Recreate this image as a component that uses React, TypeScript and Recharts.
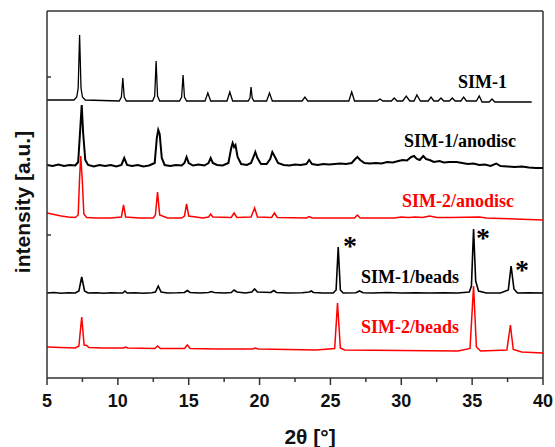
import { LineChart, Line, XAxis, YAxis, ReferenceLine } from 'recharts';

// XRD patterns, [2theta, intensity a.u.] (traces offset vertically)
const sim1: [number, number][] = [
  [5, 278], [6.9, 278], [7.1, 281], [7.2, 290], [7.3, 343], [7.4, 290], [7.5, 281], [7.7, 278],
  [10.1, 277], [10.25, 281], [10.35, 300], [10.45, 281], [10.6, 277],
  [12.45, 277], [12.6, 282], [12.7, 317], [12.8, 282], [12.95, 277],
  [14.35, 277], [14.5, 281], [14.6, 303], [14.7, 281], [14.85, 277],
  [16.15, 277], [16.35, 285], [16.55, 277],
  [17.7, 277], [17.9, 286], [18.1, 277],
  [19.2, 277], [19.32, 280], [19.4, 291], [19.48, 280], [19.6, 277],
  [20.5, 277], [20.7, 285], [20.9, 277],
  [23.0, 277], [23.2, 281], [23.4, 277],
  [26.3, 277], [26.5, 286], [26.7, 277],
  [28.3, 277], [28.5, 279], [28.7, 277],
  [29.3, 277], [29.5, 280], [29.7, 277],
  [30.1, 277], [30.35, 282], [30.6, 277],
  [30.9, 277], [31.1, 283], [31.35, 277],
  [31.9, 277], [32.1, 281], [32.3, 277],
  [32.6, 277], [32.8, 280], [33.0, 277],
  [33.4, 277], [33.6, 280], [33.8, 277],
  [34.2, 277], [34.4, 281], [34.6, 277],
  [35.3, 277], [35.5, 282], [35.7, 276],
  [36.2, 276], [36.4, 279], [36.6, 276],
  [39.2, 276],
];

const sim1Anodisc: [number, number][] = [
  [5, 213], [5.4, 212], [5.8, 213.5], [6.2, 212], [6.6, 213], [7.0, 212.5], [7.2, 216],
  [7.35, 250], [7.45, 273], [7.55, 245], [7.7, 218], [7.9, 213], [8.3, 211.5], [8.7, 213],
  [9.1, 212], [9.5, 213], [9.9, 211.5], [10.25, 213], [10.45, 220], [10.65, 213], [11.0, 212],
  [11.4, 213], [11.8, 211.5], [12.2, 212.5], [12.6, 215], [12.75, 240], [12.85, 248],
  [12.95, 244], [13.1, 220], [13.3, 213], [13.7, 212], [14.1, 213], [14.5, 212.5], [14.7, 215],
  [14.85, 221], [15.0, 215], [15.3, 212.5], [15.7, 213.5], [16.1, 212.5], [16.4, 215],
  [16.55, 220], [16.7, 215], [17.0, 213], [17.4, 212.5], [17.8, 215], [18.0, 230], [18.1, 235],
  [18.2, 231], [18.3, 233], [18.45, 221], [18.7, 214], [19.1, 213], [19.4, 215], [19.6, 222],
  [19.7, 226], [19.85, 220], [20.1, 214], [20.5, 214], [20.75, 219], [20.9, 226], [21.05, 222],
  [21.3, 215], [21.7, 213], [22.1, 212.5], [22.5, 213.5], [22.9, 213], [23.3, 214], [23.5, 218],
  [23.7, 214], [24.1, 213], [24.5, 214], [24.9, 213.5], [25.3, 214], [25.7, 214.5], [26.1, 214],
  [26.5, 215], [26.75, 219], [26.9, 221], [27.1, 218], [27.4, 215], [27.8, 214.5], [28.2, 215],
  [28.6, 214.5], [29.0, 216], [29.4, 215.5], [29.8, 217], [30.1, 218], [30.4, 217.5], [30.7, 221],
  [30.9, 222], [31.1, 219], [31.3, 218], [31.55, 222], [31.75, 219], [32.0, 218], [32.3, 216],
  [32.7, 217], [33.0, 215.5], [33.4, 216], [33.9, 216], [34.3, 215], [34.7, 214], [35.1, 214.5],
  [35.5, 213], [35.9, 213.5], [36.3, 212], [36.7, 214.5], [37.0, 212], [37.5, 211.5], [38.0, 211],
  [38.5, 211.5], [39.0, 210.5], [39.5, 210], [40, 210],
];

const sim2Anodisc: [number, number][] = [
  [5, 165], [5.5, 163.5], [6.0, 162], [6.5, 161], [7.0, 160.5], [7.2, 163], [7.3, 200],
  [7.38, 222], [7.48, 200], [7.6, 164], [7.8, 160.5], [8.5, 160], [9.5, 160], [10.25, 161],
  [10.4, 173], [10.55, 161], [11.5, 160], [12.5, 160], [12.65, 163], [12.8, 186], [12.95, 163],
  [13.5, 160], [14.5, 160], [14.7, 162], [14.85, 174], [15.0, 162], [16.0, 160], [16.4, 161],
  [16.55, 164], [16.7, 161], [18.0, 160.5], [18.2, 165], [18.4, 160.5], [19.4, 161], [19.65, 170],
  [19.85, 161], [20.85, 160.5], [21.05, 165], [21.25, 160.5], [23.3, 160], [23.5, 161.5],
  [23.7, 160], [26.7, 160], [26.9, 163], [27.1, 160], [29.5, 160], [30.0, 161], [30.5, 160.5],
  [31.0, 161], [31.5, 160.5], [32.0, 162], [32.5, 160.5], [33.5, 160.5], [35.5, 161], [36, 160],
  [37, 159.5], [40, 158],
];

const sim1Beads: [number, number][] = [
  [5, 85], [5.5, 85.5], [6, 84.8], [6.5, 85.3], [7.0, 85], [7.25, 87], [7.45, 101], [7.65, 87],
  [7.9, 85], [8.5, 85.3], [9.0, 84.8], [9.5, 85.2], [10, 85], [10.35, 85], [10.5, 87], [10.65, 85],
  [11.2, 85.3], [11.8, 84.8], [12.4, 85.2], [12.65, 86], [12.85, 92], [13.05, 86], [13.5, 85],
  [14.2, 85.2], [14.7, 85.5], [14.9, 87.5], [15.1, 85.5], [15.8, 85], [16.4, 85.5], [16.6, 86.5],
  [16.8, 85.5], [17.5, 85], [18.0, 85.5], [18.2, 88], [18.4, 86], [19, 85], [19.45, 86],
  [19.65, 89], [19.85, 86], [20.8, 85.5], [21.0, 87.5], [21.2, 85.5], [22, 85], [23.0, 85.2],
  [23.5, 86], [23.65, 87], [23.8, 85.5], [24.5, 85], [25.2, 85], [25.4, 88], [25.55, 131],
  [25.7, 88], [25.9, 85], [26.8, 85.3], [27.05, 87], [27.3, 85.3], [28, 85], [29, 85.5], [30, 85],
  [31, 85.3], [32, 85], [33, 85.3], [34, 85], [34.8, 86], [34.95, 92], [35.1, 149], [35.25, 97],
  [35.45, 87], [36, 85], [37, 85], [37.55, 88], [37.75, 112], [37.95, 89], [38.2, 85], [39, 85.2],
  [40, 85],
];

const sim2Beads: [number, number][] = [
  [5, 31], [6, 30.5], [7, 30], [7.25, 32], [7.45, 61], [7.62, 33], [7.8, 32.5], [7.95, 30.5],
  [9, 30], [10.4, 30], [10.55, 31], [10.7, 30], [12.6, 29.5], [12.8, 32], [13.0, 29.5],
  [14.7, 29.5], [14.9, 33], [15.1, 29.5], [17, 29], [19.5, 29], [19.7, 30], [19.9, 29], [22, 28.5],
  [24, 28], [25.3, 29.5], [25.5, 75], [25.7, 30], [26, 28], [30, 27.5], [34, 27], [34.85, 29.5],
  [35.1, 92], [35.3, 31], [35.6, 27], [37.45, 28], [37.7, 53], [37.9, 28.5], [38.5, 26], [40, 25],
];

const xTicks = [5, 7.5, 10, 12.5, 15, 17.5, 20, 22.5, 25, 27.5, 30, 32.5, 35, 37.5, 40];
const yTicks = [143, 301];

const toPts = (arr: [number, number][]) => arr.map(([x, y]) => ({ x, y }));

const series = [
  { name: 'SIM-1', data: toPts(sim1), color: '#000', width: 1.3 },
  { name: 'SIM-1/anodisc', data: toPts(sim1Anodisc), color: '#000', width: 2 },
  { name: 'SIM-2/anodisc', data: toPts(sim2Anodisc), color: '#ff0000', width: 1.5 },
  { name: 'SIM-1/beads', data: toPts(sim1Beads), color: '#000', width: 1.6 },
  { name: 'SIM-2/beads', data: toPts(sim2Beads), color: '#ff0000', width: 1.5 },
];

const traceLabels = [
  { text: 'SIM-1', left: 458, top: 73, color: '#000' },
  { text: 'SIM-1/anodisc', left: 404, top: 132, color: '#000' },
  { text: 'SIM-2/anodisc', left: 402, top: 192, color: '#ff0000' },
  { text: 'SIM-1/beads', left: 361, top: 268, color: '#000' },
  { text: 'SIM-2/beads', left: 361, top: 318, color: '#ff0000' },
];

const stars = [
  { left: 343, top: 232 },
  { left: 476, top: 224 },
  { left: 515, top: 256 },
];

const AXIS = '#333';

const XTick = (props: any) => {
  const { x, y, payload } = props;
  const major = payload.value % 5 === 0;
  return (
    <g>
      <line x1={x} x2={x} y1={y} y2={y + (major ? 7 : 4)} stroke={AXIS} strokeWidth={1.5} />
      {major && (
        <text x={x} y={y + 29} textAnchor="middle" fontFamily="Arial, 'Liberation Sans'" fontWeight="bold" fontSize={18} fill="#111">
          {payload.value}
        </text>
      )}
    </g>
  );
};

const YTick = (props: any) => {
  const { x, y } = props;
  return <line x1={x} x2={x + 4} y1={y} y2={y} stroke={AXIS} strokeWidth={1.5} />;
};

export default function App() {
  return (
    <div style={{ position: 'absolute', left: 0, top: 0, width: 555, height: 447, background: '#fff' }}>
      <LineChart width={555} height={447} margin={{ top: 11, right: 12, left: 0, bottom: 0 }}>
        <XAxis
          dataKey="x"
          type="number"
          domain={[5, 40]}
          ticks={xTicks}
          height={69}
          tickSize={0}
          tickMargin={0}
          tickLine={false}
          tick={<XTick />}
          interval={0}
          stroke={AXIS}
          strokeWidth={1.5}
          allowDataOverflow
        />
        <YAxis
          type="number"
          domain={[0, 367]}
          ticks={yTicks}
          width={47}
          tickSize={0}
          tickMargin={0}
          tickLine={false}
          tick={<YTick />}
          stroke={AXIS}
          strokeWidth={1.5}
          allowDataOverflow
        />
        <ReferenceLine y={367} stroke={AXIS} strokeWidth={1.5} />
        <ReferenceLine x={40} stroke={AXIS} strokeWidth={1.5} />
        {series.map((s) => (
          <Line
            key={s.name}
            data={s.data}
            dataKey="y"
            type="linear"
            stroke={s.color}
            strokeWidth={s.width}
            dot={false}
            activeDot={false}
            isAnimationActive={false}
          />
        ))}
      </LineChart>

      {traceLabels.map((l) => (
        <div
          key={l.text}
          style={{
            position: 'absolute', left: l.left, top: l.top, color: l.color, whiteSpace: 'nowrap',
            fontFamily: "'Times New Roman', 'Liberation Serif', serif", fontWeight: 'bold', fontSize: 18, lineHeight: '18px',
          }}
        >
          {l.text}
        </div>
      ))}
      {stars.map((s, i) => (
        <div
          key={i}
          style={{
            position: 'absolute', left: s.left, top: s.top, color: '#000',
            fontFamily: "'Times New Roman', 'Liberation Serif', serif", fontWeight: 'bold', fontSize: 28, lineHeight: '28px',
          }}
        >
          *
        </div>
      ))}
      <div
        style={{
          position: 'absolute', left: 22, top: 202, transform: 'translate(-50%, -50%) rotate(-90deg)', whiteSpace: 'nowrap',
          fontFamily: "Arial, 'Liberation Sans'", fontWeight: 'bold', fontSize: 21, lineHeight: '21px', color: '#111',
        }}
      >
        intensity [a.u.]
      </div>
      <div
        style={{
          position: 'absolute', left: 310, top: 426, transform: 'translateX(-50%)', whiteSpace: 'nowrap',
          fontFamily: "Arial, 'Liberation Sans'", fontWeight: 'bold', fontSize: 21, lineHeight: '21px', color: '#111',
        }}
      >
        2θ [°]
      </div>
    </div>
  );
}
